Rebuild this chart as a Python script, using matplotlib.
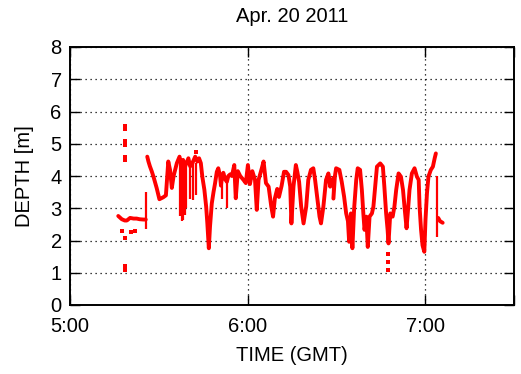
import numpy as np
import matplotlib
matplotlib.use('Agg')
import matplotlib.pyplot as plt
from matplotlib.ticker import FixedLocator, FuncFormatter

plt.rcParams['font.family'] = ['Liberation Sans', 'DejaVu Sans']

# time in minutes after 5:00 GMT, depth in metres (nan = gap in record)
t_min = [16.3, 17.0, 17.5, 18.5, 19.2, 20.3, 21.5, 22.5, 23.5, 24.8, 25.6, np.nan,
         26.1, 26.5, 27.0, 27.6, 28.2, 29.3, 30.2, 31.5, 32.4, 33.2, 33.8, 34.4,
         35.0, 36.1, 37.0, 37.6, 38.2, 38.9, 40.0, 40.6, 41.1, 42.3, 43.0, 43.6,
         44.2, 44.7, 45.4, 46.0, 46.4, 46.9, 47.3, 47.9, 48.5, 49.0, 49.6, 50.1,
         50.7, 51.0, 51.3, 51.8, 52.4, 53.0, 53.5, 54.1, 54.7, 55.5, 56.0, 56.7,
         57.5, 58.6, 59.4, 60.1, 60.8, 61.6, 62.5, 63.1, 63.7, 64.8, 65.4, 66.2,
         67.1, 68.0, 68.6, 69.2, 70.0, 70.6, 71.5, 72.3, 73.0, 73.8, 74.4, 74.8,
         75.5, 76.3, 76.8, 77.4, 78.1, 78.9, 79.8, 80.5, 81.4, 82.2, 82.8, 83.6,
         84.3, 84.8, 85.6, 86.5, 87.3, 87.9, 88.2, np.nan,
         89.0, 89.5, 89.9, 91.0, 91.8, 92.6, 93.3, 93.9, 94.3, 94.9, 95.4, 96.0,
         96.7, 97.2, 98.0, 98.6, 99.1, 99.5, 100.1, 100.6, 101.2, 102.0, 102.5,
         103.1, 103.7, 104.8, 105.7, 106.2, 106.8, 107.3, 107.6, 108.2, 109.0,
         109.6, 110.2, 111.0, 111.8, 112.5, 113.0, 113.7, 114.2, 114.7, 115.5,
         116.4, 117.2, 117.8, 118.1, 118.6, 119.1, 119.7, 120.1, 120.6, 121.1,
         121.9, 122.6, 123.2, 123.6, np.nan,
         124.4, 125.0, 125.9]
depth = [2.76, 2.70, 2.66, 2.62, 2.62, 2.70, 2.68, 2.68, 2.66, 2.65, 2.65, np.nan,
         4.60, 4.45, 4.30, 4.15, 3.98, 3.62, 3.28, 3.34, 3.40, 4.45, 4.19, 3.63,
         4.00, 4.40, 4.60, 4.35, 4.50, 4.30, 4.55, 4.30, 4.35, 4.60, 4.45, 4.55,
         4.40, 3.98, 3.57, 3.05, 2.53, 1.76, 2.43, 3.15, 3.51, 3.77, 4.13, 4.24,
         4.00, 3.70, 3.95, 4.10, 3.90, 3.82, 4.00, 4.05, 4.00, 4.34, 3.31, 4.15,
         4.00, 3.88, 3.78, 4.34, 3.75, 4.15, 3.88, 2.95, 3.88, 4.24, 4.45, 3.78,
         3.67, 3.05, 2.74, 3.30, 3.60, 3.35, 3.70, 4.13, 4.13, 4.03, 3.67, 2.53,
         3.67, 4.34, 4.13, 3.82, 3.05, 2.53, 3.05, 3.88, 4.19, 4.24, 3.88, 3.26,
         2.74, 2.53, 3.05, 3.88, 4.08, 3.67, 3.90, np.nan,
         3.30, 4.00, 4.24, 4.19, 3.82, 3.36, 2.84, 2.60, 1.96, 2.84, 1.76, 3.00,
         3.88, 4.24, 4.19, 3.57, 2.84, 2.33, 2.74, 1.80, 2.74, 2.84, 3.05,
         3.67, 4.29, 4.39, 4.29, 3.67, 2.84, 2.33, 1.91, 2.84, 2.74,
         3.05, 3.57, 4.08, 3.98, 3.57, 3.05, 2.38, 2.95, 3.57, 4.08,
         4.24, 3.98, 3.88, 3.05, 2.33, 1.85, 1.65, 2.64, 3.47, 3.98,
         4.19, 4.29, 4.55, 4.70, np.nan,
         2.70, 2.60, 2.55]

# short vertical bursts of scattered samples: time, low, high
burst_t = [25.6, 37.3, 37.8, 38.3, 38.8, 39.3, 40.6, 41.6, 42.7, 51.3, 53.0, 88.8, 124.0]
burst_lo = [2.35, 2.75, 2.60, 2.65, 2.80, 3.00, 3.30, 3.25, 3.40, 3.30, 3.00, 3.30, 2.10]
burst_hi = [3.50, 4.50, 4.40, 4.45, 4.30, 4.40, 4.40, 4.50, 4.40, 4.00, 4.00, 4.00, 4.00]

# isolated samples
out_t = [18.6, 18.6, 18.7, 18.7, 18.6, 18.7, 18.6, 18.6, 18.5, 18.6, 17.5, 20.5, 22.0,
         42.6, 107.4, 107.4, 107.5]
out_d = [5.55, 5.45, 5.10, 5.00, 4.95, 4.60, 4.50, 2.07, 1.20, 1.10, 2.30, 2.25, 2.30,
         4.75, 1.58, 1.34, 1.10]

x_ticks = [0, 60, 120]
x_labels = ['5:00', '6:00', '7:00']

fig = plt.figure(figsize=(5.21, 3.74), dpi=100)
ax = fig.add_axes([70/521, 69/374, 444/521, 258/374])

ax.plot(t_min, depth, '-', color='red', linewidth=2.8, solid_capstyle='round')
ax.vlines(burst_t, burst_lo, burst_hi, color='red', linewidth=1.6)
ax.plot(out_t, out_d, 's', color='red', markersize=2.2, markeredgewidth=0)

ax.set_xlim(0, 150)
ax.set_ylim(0, 8)
ax.xaxis.set_major_locator(FixedLocator([0, 60, 120, 150]))
ax.xaxis.set_major_formatter(FuncFormatter(
    lambda v, p: x_labels[x_ticks.index(v)] if v in x_ticks else ''))
ax.set_yticks(range(0, 9))

ax.grid(True, color='black', linestyle=(0, (1, 3)), linewidth=0.9)
ax.tick_params(direction='in', top=True, right=True, length=7, width=1,
               labelsize=14.5)
ax.tick_params(axis='x', pad=9)
ax.tick_params(axis='y', pad=6)
for s in ax.spines.values():
    s.set_linewidth(1.4)

ax.set_xlabel('TIME (GMT)', fontsize=14.5, labelpad=7)
ax.set_ylabel('DEPTH [m]', fontsize=14.5, labelpad=12)
ax.set_title('Apr. 20 2011', fontsize=14.5, pad=18)

fig.savefig('out.png', dpi=100)
